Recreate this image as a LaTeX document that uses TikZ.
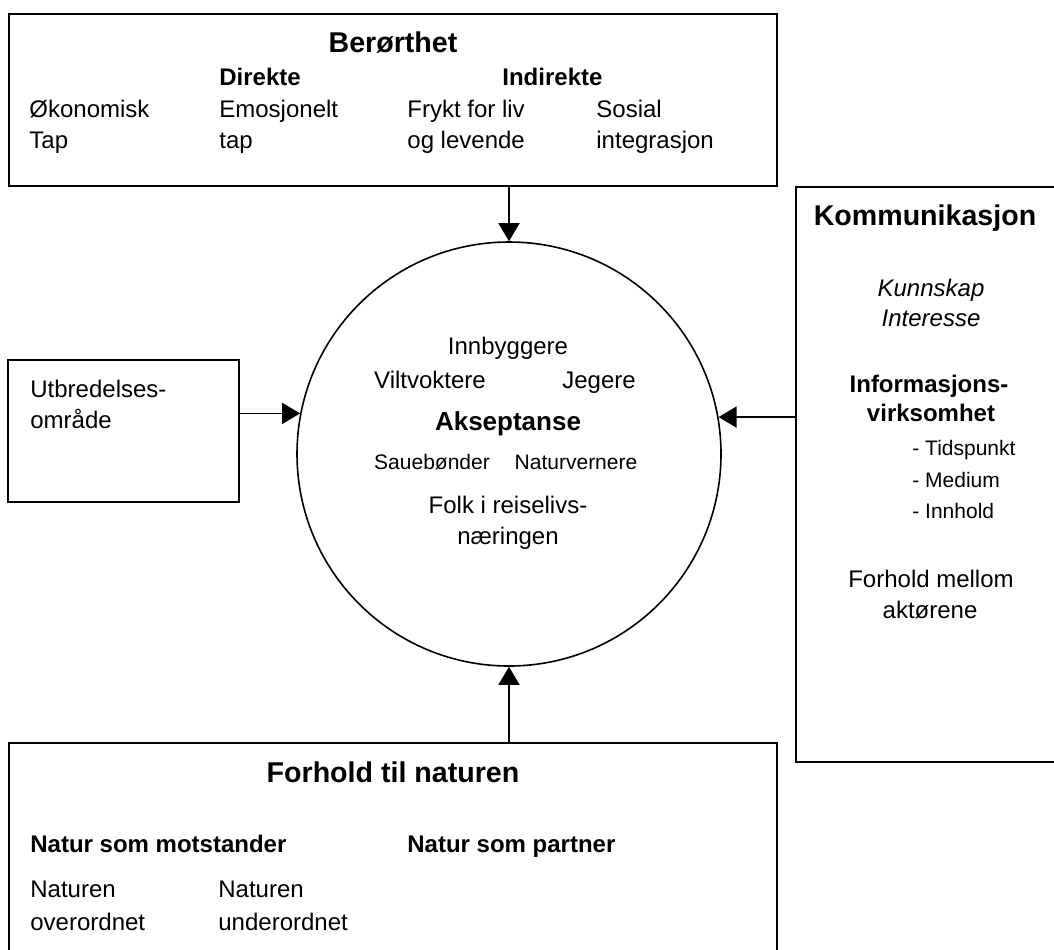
\documentclass[tikz,border=0pt]{standalone}
\usepackage{fontspec}
\setmainfont{Liberation Sans}
\usetikzlibrary{arrows.meta}
\begin{document}
\begin{tikzpicture}[x=0.5pt,y=-0.5pt,
  box/.style={draw,line width=0.8pt,inner sep=0pt},
  arr/.style={line width=0.8pt,-{Triangle[length=9pt,width=10.5pt]}},
  t/.style={inner sep=0pt,font=\fontsize{12}{14}\selectfont},
  ts/.style={inner sep=0pt,font=\fontsize{10.5}{12}\selectfont},
  tb/.style={inner sep=0pt,font=\fontsize{12}{14}\selectfont\bfseries},
  th/.style={inner sep=0pt,font=\fontsize{14.3}{17}\selectfont\bfseries},
  ti/.style={inner sep=0pt,font=\fontsize{12}{14}\selectfont\itshape}]
\useasboundingbox (0,0) rectangle (1054,949);
\begin{scope}
\clip (0,0) rectangle (1054,949);
% boxes
\node[box,minimum width=384pt,minimum height=86pt] (top) at (393,100) {};
\node[box,minimum width=115.5pt,minimum height=71pt] (left) at (123.5,431) {};
\node[box,minimum width=137pt,minimum height=287.5pt] (right) at (933,474.5) {};
\node[box,minimum width=384pt,minimum height=113.5pt] (bot) at (393,856.5) {};
\node[draw,circle,line width=0.8pt,inner sep=0pt,minimum size=212pt] (circ) at (509,454) {};
% connectors
\draw[arr] (top.south -| circ.center) -- (circ.north);
\draw[arr] (bot.north -| circ.center) -- (circ.south);
\draw[arr] (left.east |- circ.169.95) -- (circ.169.95);
\draw[arr] (right.west |- circ.10.05) -- (circ.10.05);
% top box text
\node[th,anchor=base] (bh) at (393,52) {Berørthet};
\node[tb,anchor=base west] (dir) at (219,85) {Direkte};
\node[tb,anchor=base west] (ind) at (502,85) {Indirekte};
\node[t,anchor=base west] (ok1) at (29,117) {Økonomisk};
\node[t,anchor=base west] (ok2) at (29,148) {Tap};
\node[t,anchor=base west] (em1) at (219,117) {Emosjonelt};
\node[t,anchor=base west] (em2) at (219,148) {tap};
\node[t,anchor=base west] (fr1) at (407,117) {Frykt for liv};
\node[t,anchor=base west] (fr2) at (407,148) {og levende};
\node[t,anchor=base west] (so1) at (596,117) {Sosial};
\node[t,anchor=base west] (so2) at (596,148) {integrasjon};
% left box text
\node[t,anchor=base west] (ut1) at (30,397) {Utbredelses-};
\node[t,anchor=base west] (ut2) at (30,428) {område};
% right box text
\node[th,anchor=base] (kh) at (925,225) {Kommunikasjon};
\node[ti,anchor=base] (ku) at (931,296) {Kunnskap};
\node[ti,anchor=base] (in) at (931,326) {Interesse};
\node[tb,anchor=base] (inf1) at (929,392) {Informasjons-};
\node[tb,anchor=base] (inf2) at (931,421) {virksomhet};
\node[ts,anchor=base west] (l1) at (912,455) {- Tidspunkt};
\node[ts,anchor=base west] (l2) at (912,487) {- Medium};
\node[ts,anchor=base west] (l3) at (912,518) {- Innhold};
\node[t,anchor=base] (fm1) at (931,587) {Forhold mellom};
\node[t,anchor=base] (fm2) at (930,618) {aktørene};
% circle text
\node[t,anchor=base] (c1) at (508,354) {Innbyggere};
\node[t,anchor=base] (c2) at (430,388) {Viltvoktere};
\node[t,anchor=base] (c3) at (599,388) {Jegere};
\node[inner sep=0pt,font=\fontsize{13}{15}\selectfont\bfseries,anchor=base] (c4) at (508,430) {Akseptanse};
\node[ts,anchor=base] (c5) at (432,469) {Sauebønder};
\node[ts,anchor=base] (c6) at (576,469) {Naturvernere};
\node[t,anchor=base] (c7) at (508,513) {Folk i reiselivs-};
\node[t,anchor=base] (c8) at (508,544) {næringen};
% bottom box text
\node[th,anchor=base] (nh) at (393,782) {Forhold til naturen};
\node[tb,anchor=base west] (nm) at (30,852) {Natur som motstander};
\node[tb,anchor=base west] (np) at (407,852) {Natur som partner};
\node[t,anchor=base west] (n1) at (30,897) {Naturen};
\node[t,anchor=base west] (n2) at (30,930) {overordnet};
\node[t,anchor=base west] (n3) at (218,897) {Naturen};
\node[t,anchor=base west] (n4) at (218,930) {underordnet};
\end{scope}
\end{tikzpicture}
\end{document}
